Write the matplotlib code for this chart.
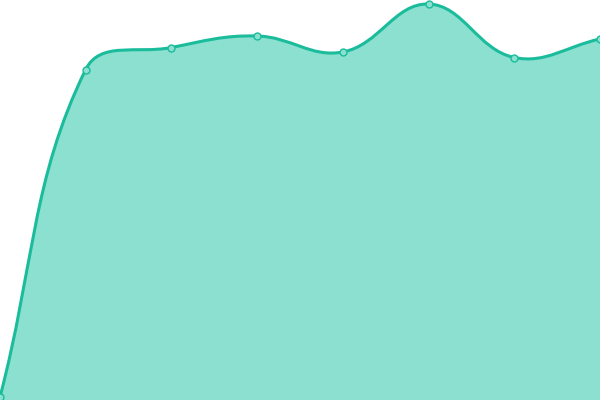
import numpy as np
import matplotlib
matplotlib.use("Agg")
import matplotlib.pyplot as plt
from matplotlib.path import Path
from matplotlib.patches import PathPatch

categories = [0, 1, 2, 3, 4, 5, 6, 7]
values = [3, 330.5, 352.5, 364, 348, 396, 342.5, 361]

LINE = "#1abc9c"
FILL = "#8be0cf"

fig = plt.figure(figsize=(6, 4), dpi=100)
ax = fig.add_axes([0, 0, 1, 1])
ax.set_xlim(0, 7)
ax.set_ylim(0, 400)
ax.axis("off")

# Chart.js-style spline (tension 0.4) computed in display space
pts = ax.transData.transform(np.column_stack([categories, values]))
W, H = fig.bbox.width, fig.bbox.height
t = 0.4
n = len(pts)
prev_cp = []
next_cp = []
for i in range(n):
    cur = pts[i]
    p = pts[i - 1] if i > 0 else cur
    nx = pts[i + 1] if i < n - 1 else cur
    d01 = np.hypot(*(cur - p))
    d12 = np.hypot(*(nx - cur))
    s = d01 + d12
    s01 = d01 / s if s else 0
    s12 = d12 / s if s else 0
    a = cur - t * s01 * (nx - p)
    b = cur + t * s12 * (nx - p)
    a = np.clip(a, [0, 0], [W, H])
    b = np.clip(b, [0, 0], [W, H])
    prev_cp.append(a)
    next_cp.append(b)

verts = [tuple(pts[0])]
codes = [Path.MOVETO]
for i in range(1, n):
    verts += [tuple(next_cp[i - 1]), tuple(prev_cp[i]), tuple(pts[i])]
    codes += [Path.CURVE4] * 3

inv = ax.transData.inverted()
dverts = inv.transform(np.array(verts))
line_path = Path(dverts, codes)

fill_verts = list(map(tuple, dverts)) + [(categories[-1], 0), (categories[0], 0), tuple(dverts[0])]
fill_codes = codes + [Path.LINETO, Path.LINETO, Path.CLOSEPOLY]
ax.add_patch(PathPatch(Path(fill_verts, fill_codes), facecolor=FILL, edgecolor="none", zorder=1))
ax.add_patch(PathPatch(line_path, facecolor="none", edgecolor=LINE, lw=2.2, zorder=2,
                       capstyle="round", joinstyle="round"))
ax.plot(categories, values, "o", ms=5, mfc=FILL, mec=LINE, mew=1.0, zorder=3, clip_on=False)

fig.savefig("out.png", dpi=100)
